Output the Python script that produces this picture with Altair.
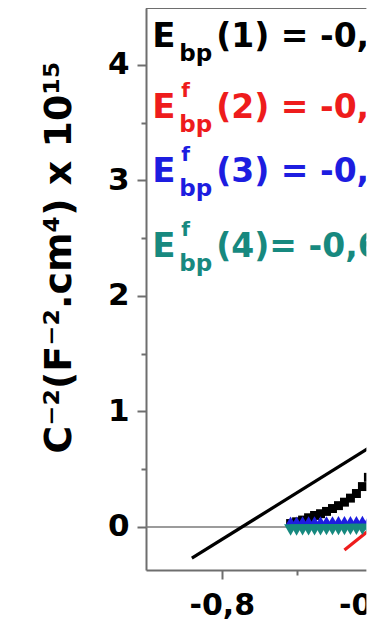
import altair as alt
import pandas as pd

# ---------------- data ----------------
MARK_X = [-0.708, -0.700, -0.692, -0.684, -0.676, -0.668, -0.660, -0.652,
          -0.644, -0.636, -0.628, -0.620, -0.612, -0.604, -0.596]
BLACK_Y = [0.03, 0.045, 0.06, 0.08, 0.10, 0.115, 0.135, 0.16,
           0.185, 0.215, 0.25, 0.29, 0.35, 0.43, 0.52]
BLUE_Y = [0.050, 0.050, 0.051, 0.051, 0.052, 0.052, 0.053, 0.053,
          0.054, 0.054, 0.055, 0.055, 0.056, 0.056, 0.057]
TEAL_Y = [-0.026, -0.026, -0.025, -0.025, -0.024, -0.024, -0.023, -0.023,
          -0.022, -0.022, -0.021, -0.021, -0.020, -0.020, -0.019]

FIT1_X = [-0.840, -0.592]
FIT1_Y = [-0.27, 0.73]
FIT2_X = [-0.636, -0.592]
FIT2_Y = [-0.20, 0.03]

SERIES = ["1", "2", "3", "4"]
LABEL_SUP = ["", "f", "f", "f"]
LABEL_REST = ["(1) = -0,77 V", "(2) = -0,35 V", "(3) = -0,58 V", "\u00a0(4)= -0,60 V"]
LABEL_Y = [4.16, 3.54, 2.99, 2.34]
LABEL_X = -0.893

X_TICKS = [-0.8, -0.7, -0.6]
Y_TICKS = [0, 0.5, 1, 1.5, 2, 2.5, 3, 3.5, 4]
X_DOMAIN = [-0.9013, -0.5925]
Y_DOMAIN = [-0.3723, 4.4935]
CROP_X = -0.6067  # right edge of the original (cropped) figure

COLORS = ["#000000", "#ee1c1c", "#1d1de0", "#17897f"]
AXIS_GREY = "#6e6e6e"
FONT = "DejaVu Sans"

# ---------------- tables ----------------
markers = pd.DataFrame({
    "x": MARK_X * 3,
    "y": BLACK_Y + BLUE_Y + TEAL_Y,
    "series": ["1"] * len(MARK_X) + ["3"] * len(MARK_X) + ["4"] * len(MARK_X),
})
fits = pd.DataFrame({
    "x": FIT1_X + FIT2_X,
    "y": FIT1_Y + FIT2_Y,
    "series": ["1"] * len(FIT1_X) + ["2"] * len(FIT2_X),
})
labels = pd.DataFrame({
    "series": SERIES,
    "x": [LABEL_X] * len(SERIES),
    "y": LABEL_Y,
    "sup": LABEL_SUP,
    "rest": LABEL_REST,
})
zero = pd.DataFrame({"y": [0]})
mask = pd.DataFrame({"x": [CROP_X], "x2": [-0.45], "y": [-1.6], "y2": [5.0]})

# ---------------- scales & axes ----------------
xscale = alt.Scale(domain=X_DOMAIN, nice=False, zero=False)
yscale = alt.Scale(domain=Y_DOMAIN, nice=False, zero=False)
cscale = alt.Scale(domain=SERIES, range=COLORS)

x_minor = "abs(datum.value + 0.7) < 0.001"
y_minor = "datum.value % 1 != 0"

XAXIS = alt.Axis(
    values=X_TICKS, title=None, grid=False,
    labelExpr=f"{x_minor} ? '' : replace(toString(datum.value), '.', ',')",
    tickSize={"condition": {"test": x_minor, "value": 5}, "value": 9},
    labelFont=FONT, labelFontWeight="bold", labelFontSize=30, labelColor="black",
    labelBaseline="alphabetic", labelPadding=35, labelFlush=False, labelOverlap=False,
    domainColor=AXIS_GREY, domainWidth=2, tickColor=AXIS_GREY, tickWidth=2,
)
YAXIS = alt.Axis(
    values=Y_TICKS, grid=False,
    title="C\u207b\u00b2(F\u207b\u00b2.cm\u2074) x 10\u00b9\u2075",
    titleFont=FONT, titleFontWeight="bold", titleFontSize=38, titleColor="black",
    titleAngle=270, titleX=-76, titleY=249, titleAlign="center", titleBaseline="alphabetic",
    labelExpr=f"{y_minor} ? '' : toString(datum.value)",
    tickSize={"condition": {"test": y_minor, "value": 5}, "value": 9},
    labelFont=FONT, labelFontWeight="bold", labelFontSize=31, labelColor="black",
    labelPadding=8, labelFlush=False, labelOverlap=False,
    domainColor=AXIS_GREY, domainWidth=2, tickColor=AXIS_GREY, tickWidth=2,
)

X = alt.X("x:Q", scale=xscale, axis=XAXIS)
Y = alt.Y("y:Q", scale=yscale, axis=YAXIS)
C = alt.Color("series:N", scale=cscale, legend=None)

# ---------------- layers ----------------
zero_rule = alt.Chart(zero).mark_rule(color="#7a7a7a", strokeWidth=1.5).encode(y=Y)
top_rule = alt.Chart(zero).mark_rule(color=AXIS_GREY, strokeWidth=2).encode(y=alt.value(0))

fit_lines = alt.Chart(fits).mark_line(strokeWidth=3.2).encode(x=X, y=Y, color=C, detail="series:N")

black_pts = alt.Chart(markers).transform_filter("datum.series == '1'").mark_point(
    shape="square", filled=True, size=80, opacity=1).encode(x=X, y=Y, color=C)
blue_pts = alt.Chart(markers).transform_filter("datum.series == '3'").mark_point(
    shape="triangle-up", filled=True, size=120, opacity=1).encode(x=X, y=Y, color=C)
teal_pts = alt.Chart(markers).transform_filter("datum.series == '4'").mark_point(
    shape="triangle-down", filled=True, size=170, opacity=1).encode(x=X, y=Y, color=C)

txt = dict(font=FONT, fontWeight="bold", align="left", baseline="alphabetic")
lab_E = alt.Chart(labels).mark_text(fontSize=34, **txt).encode(
    x=X, y=Y, color=C, text=alt.value("E"))
lab_bp = alt.Chart(labels).mark_text(fontSize=23, dx=27, dy=14, **txt).encode(
    x=X, y=Y, color=C, text=alt.value("bp"))
lab_f = alt.Chart(labels).mark_text(fontSize=20, dx=29, dy=-21, **txt).encode(
    x=X, y=Y, color=C, text="sup:N")
lab_rest = alt.Chart(labels).mark_text(fontSize=33, dx=64, **txt).encode(
    x=X, y=Y, color=C, text="rest:N")

crop = alt.Chart(mask).mark_rect(color="white", opacity=1).encode(
    x=X, x2="x2", y=Y, y2="y2")

chart = alt.layer(
    zero_rule, top_rule, fit_lines, black_pts, blue_pts, teal_pts,
    lab_E, lab_bp, lab_f, lab_rest, crop,
).properties(
    width=231, height=562,
    autosize=alt.AutoSizeParams(type="none"),
    padding={"left": 138, "top": 0, "right": 0, "bottom": 50},
    background="white",
).configure_view(stroke="transparent")

chart.save("out.html", embed_options={"renderer": "svg", "actions": False})
